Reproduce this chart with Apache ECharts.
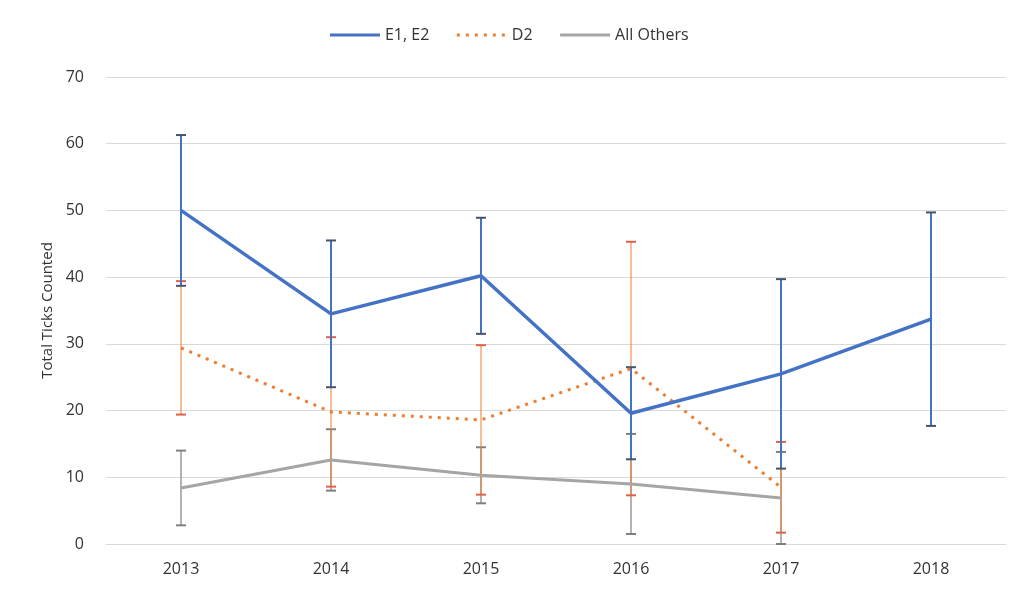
<!DOCTYPE html>
<html>
<head>
<meta charset="utf-8">
<script src="https://cdn.jsdelivr.net/npm/echarts@6/dist/echarts.min.js"></script>
<style>html,body{margin:0;padding:0;background:#fff;}#c{width:1017px;height:593px;}</style>
</head>
<body>
<div id="c"></div>
<script>
const years = ['2013','2014','2015','2016','2017','2018'];
const e1e2 = [50.0, 34.5, 40.2, 19.6, 25.5, 33.7];
const e1e2Err = [11.3, 11.0, 8.7, 6.9, 14.2, 16.0];
const d2 = [29.4, 19.8, 18.6, 26.3, 8.5, null];
const d2Err = [10.0, 11.2, 11.2, 19.0, 6.8, null];
const others = [8.4, 12.6, 10.3, 9.0, 6.9, null];
const othersErr = [5.6, 4.6, 4.2, 7.5, 6.9, null];
const yTicks = [0, 10, 20, 30, 40, 50, 60, 70];

const chart = echarts.init(document.getElementById('c'));

function errSeries(name, vals, errs, color, capColor, width) {
  const data = [];
  vals.forEach((v, i) => {
    if (v != null && errs[i] != null) data.push([i, v - errs[i], v + errs[i]]);
  });
  return {
    type: 'custom',
    name: name,
    z: 1,
    silent: true,
    data: data,
    encode: { x: 0, y: [1, 2] },
    renderItem: function (params, api) {
      const x = api.value(0);
      const lo = api.coord([x, api.value(1)]);
      const hi = api.coord([x, api.value(2)]);
      const hw = 5;
      return {
        type: 'group',
        children: [
          { type: 'line', shape: { x1: lo[0], y1: lo[1], x2: hi[0], y2: hi[1] }, style: { stroke: color, lineWidth: width } },
          { type: 'line', shape: { x1: lo[0] - hw, y1: lo[1], x2: lo[0] + hw, y2: lo[1] }, style: { stroke: capColor, lineWidth: 2 } },
          { type: 'line', shape: { x1: hi[0] - hw, y1: hi[1], x2: hi[0] + hw, y2: hi[1] }, style: { stroke: capColor, lineWidth: 2 } }
        ]
      };
    }
  };
}

chart.setOption({
  animation: false,
  backgroundColor: '#ffffff',
  textStyle: { fontFamily: 'Open Sans, Noto Sans, sans-serif' },
  legend: {
    top: 22,
    left: 'center',
    itemWidth: 50,
    itemHeight: 14,
    itemGap: 26,
    itemStyle: { opacity: 0 },
    lineStyle: { width: 3 },
    data: ['E1, E2', 'D2', 'All Others'],
    textStyle: { fontSize: 16, color: '#333333', fontFamily: 'Open Sans, sans-serif' }
  },
  grid: { left: 106, right: 11, top: 77, bottom: 49 },
  xAxis: {
    type: 'category',
    data: years,
    boundaryGap: true,
    axisLine: { show: true, lineStyle: { color: '#d9d9d9' } },
    axisTick: { show: false },
    axisLabel: { fontSize: 16, color: '#333333', margin: 17 },
    splitLine: { show: false }
  },
  yAxis: {
    type: 'value',
    min: 0,
    max: 70,
    interval: 10,
    name: 'Total Ticks Counted',
    nameLocation: 'middle',
    nameGap: 44,
    nameTextStyle: { fontSize: 15, color: '#333333' },
    axisLine: { show: false },
    axisTick: { show: false },
    axisLabel: { fontSize: 16, color: '#333333', margin: 22,
      formatter: function (v) { return yTicks.indexOf(v) >= 0 ? String(v) : ''; } },
    splitLine: { show: true, lineStyle: { color: '#d9d9d9', width: 1 } }
  },
  series: [
    errSeries('errOthers', others, othersErr, '#9a9a9a', '#7f7f7f', 1.5),
    errSeries('errD2', d2, d2Err, '#ed7d31', '#e0604a', 1),
    errSeries('errE', e1e2, e1e2Err, '#4472c4', '#44546a', 2),
    {
      name: 'E1, E2', type: 'line', data: e1e2, symbol: 'none', z: 5,
      lineStyle: { color: '#4472c4', width: 3.5 }, itemStyle: { color: '#4472c4' }
    },
    {
      name: 'D2', type: 'line', data: d2, symbol: 'none', z: 4,
      lineStyle: { color: '#ed7d31', width: 3, type: [3, 6] }, itemStyle: { color: '#ed7d31' }
    },
    {
      name: 'All Others', type: 'line', data: others, symbol: 'none', z: 3,
      lineStyle: { color: '#a5a5a5', width: 3 }, itemStyle: { color: '#a5a5a5' }
    }
  ]
});
</script>
</body>
</html>
